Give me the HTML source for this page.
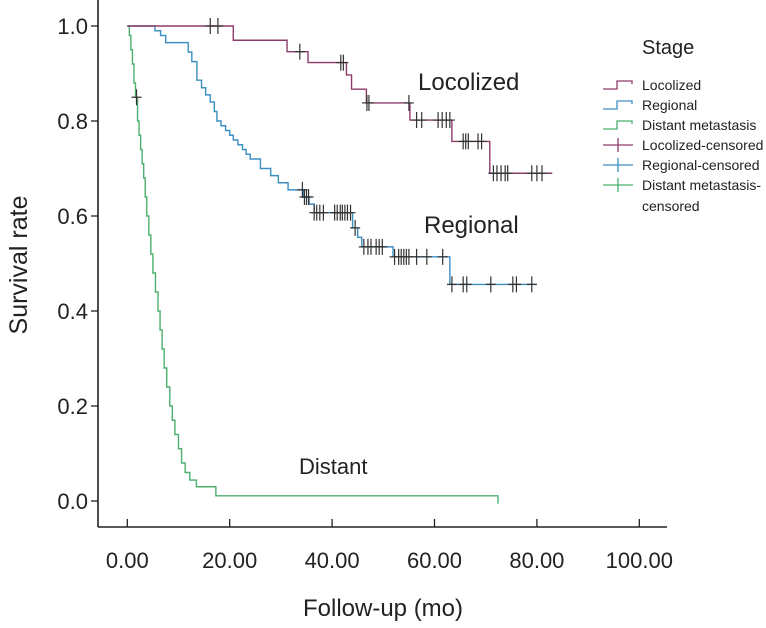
<!DOCTYPE html>
<html><head><meta charset="utf-8"><style>
body{margin:0;background:#fff;}
svg{display:block;font-family:"Liberation Sans",Arial,sans-serif;}
</style></head><body>
<svg id="chart" width="766" height="628" viewBox="0 0 766 628">
<g id="axes"></g>
<g id="series"></g>
<text x="0" y="0" transform="translate(27,265) rotate(-90)" text-anchor="middle" font-size="25" fill="#222">Survival rate</text>
<text x="383" y="616" text-anchor="middle" font-size="24" fill="#222">Follow-up (mo)</text>
<text x="418" y="90" font-size="24" fill="#222">Locolized</text>
<text x="424" y="233" font-size="24" fill="#222">Regional</text>
<text x="299" y="474" font-size="22" fill="#222">Distant</text>
<g id="legend"></g>
</svg>
<script>
const xTicks=[0,20,40,60,80,100];
const xTickLabels=["0.00","20.00","40.00","60.00","80.00","100.00"];
const yTicks=[0,0.2,0.4,0.6,0.8,1.0];
const yTickLabels=["0.0","0.2","0.4","0.6","0.8","1.0"];
const locT=[0,20.7,31.2,35.3,42.8,43.8,46.7,55.2,63.4,70.8];
const locS=[1.0,0.97,0.946,0.923,0.897,0.867,0.838,0.802,0.757,0.69];
const locEnd=83;
const locCensT=[16.2,17.7,33.7,41.7,42.2,46.8,47.2,55,56.5,57.5,60.7,61.5,62.3,63,65.6,66.1,66.6,68.5,69.2,71.5,72.2,73,73.8,74.3,79,80,81];
const regT=[0,5.4,6.5,7.5,11.9,12.6,13.6,14.5,15.3,16.2,17,17.5,18.3,19.2,20,20.7,21.6,22.5,23.2,24,26,28,29.5,31.4,34.4,35.5,36.5,44,45,45.8,51.9,63];
const regS=[1.0,0.99,0.98,0.965,0.945,0.925,0.886,0.87,0.855,0.84,0.82,0.8,0.79,0.78,0.77,0.76,0.75,0.74,0.73,0.72,0.70,0.685,0.67,0.655,0.64,0.625,0.607,0.575,0.555,0.535,0.514,0.456];
const regEnd=80;
const regCensT=[34.2,34.6,35,35.4,36.5,37,37.6,38.3,40.5,41,41.6,42,42.5,43,43.6,44.5,46.2,47,47.6,48.6,49.2,49.8,52.2,53,53.5,54,54.5,55,56.5,58.5,61.6,63.4,65.6,66.3,71,75.3,76,79];
const distT=[0,0.4,0.7,1.0,1.3,1.6,2.0,2.3,2.6,2.9,3.2,3.5,3.8,4.2,4.6,5.0,5.5,6.0,6.4,6.8,7.2,7.7,8.3,8.8,9.3,10.0,10.6,11.3,12.2,13.5,17.3];
const distS=[1.0,0.98,0.95,0.92,0.88,0.85,0.80,0.77,0.74,0.71,0.68,0.64,0.60,0.56,0.52,0.48,0.44,0.40,0.36,0.32,0.28,0.24,0.20,0.17,0.14,0.11,0.08,0.06,0.044,0.03,0.011];
const distEnd=72.4;
const distCensT=[1.8];

const NS="http://www.w3.org/2000/svg";
const X=t=>127.3+t*5.12;
const Y=v=>501-v*475;
function mk(tag,attrs,parent){const e=document.createElementNS(NS,tag);for(const k in attrs)e.setAttribute(k,attrs[k]);parent.appendChild(e);return e;}
const axes=document.getElementById('axes');
let a=mk('line',{x1:98,y1:0,x2:98,y2:527,stroke:'#222','stroke-width':1.6},axes);


a=mk('line',{x1:98,y1:527,x2:667,y2:527,stroke:'#222','stroke-width':1.6},axes);


xTicks.forEach((t,i)=>{
  const l=mk('line',{x1:X(t),y1:519,x2:X(t),y2:527,stroke:'#222','stroke-width':1.3},axes);
  
  
  const tx=mk('text',{x:X(t),y:568,'text-anchor':'middle','font-size':22,fill:'#222'},axes);
  tx.textContent=xTickLabels[i];
  
  
});
yTicks.forEach((v,i)=>{
  const l=mk('line',{x1:91,y1:Y(v),x2:98,y2:Y(v),stroke:'#222','stroke-width':1.3},axes);
  
  
  const tx=mk('text',{x:88,y:Y(v)+8,'text-anchor':'end','font-size':22,fill:'#222'},axes);
  tx.textContent=yTickLabels[i];
  
  
});
const series=document.getElementById('series');
function stepVal(T,S,t){let v=S[0];for(let i=0;i<T.length;i++){if(T[i]<=t)v=S[i];}return v;}
function drawSeries(T,S,end,cens,color,name,endDrop){
  let d='M'+X(T[0])+','+Y(S[0]);
  for(let i=1;i<T.length;i++){d+=' H'+X(T[i])+' V'+Y(S[i]);}
  d+=' H'+X(end);
  if(endDrop)d+=' v8';
  const p=mk('path',{d:d,fill:'none',stroke:color,'stroke-width':1.4},series);
  
  
  cens.forEach(t=>{
    const v=stepVal(T,S,t);
    const g=mk('path',{d:'M'+X(t)+','+(Y(v)-8)+' V'+(Y(v)+8)+' M'+(X(t)-5)+','+Y(v)+' H'+(X(t)+5),stroke:'#333','stroke-width':1.2,fill:'none'},series);
    
    
  });
}
drawSeries(distT,distS,distEnd,distCensT,'#4caf6e','distant',true);
drawSeries(regT,regS,regEnd,regCensT,'#3d8fc2','regional',false);
drawSeries(locT,locS,locEnd,locCensT,'#8e3b6a','locolized',false);

const lg=document.getElementById('legend');
const st=mk('text',{x:642,y:54,'font-size':20,fill:'#222'},lg);
st.textContent='Stage';


const legNames=['Locolized','Regional','Distant metastasis','Locolized-censored','Regional-censored','Distant metastasis-'];
const legColors=['#8e3b6a','#3d8fc2','#4caf6e','#8e3b6a','#3d8fc2','#4caf6e'];
legNames.forEach((n,i)=>{
  const y=85+i*20;
  let sym;
  if(i<3){sym=mk('path',{d:'M603,'+(y+4)+' H617 V'+(y-4)+' H632 V'+(y-1),fill:'none',stroke:legColors[i],'stroke-width':1.3},lg);}
  else{sym=mk('path',{d:'M603,'+y+' H633 M618,'+(y-7)+' V'+(y+7),fill:'none',stroke:legColors[i],'stroke-width':1.3},lg);}
  
  
  const t=mk('text',{x:642,y:y+5,'font-size':14,fill:'#222'},lg);
  t.textContent=n;
  
  
});
const c=mk('text',{x:642,y:211,'font-size':14,fill:'#222'},lg);
c.textContent='censored';


</script>
</body></html>
